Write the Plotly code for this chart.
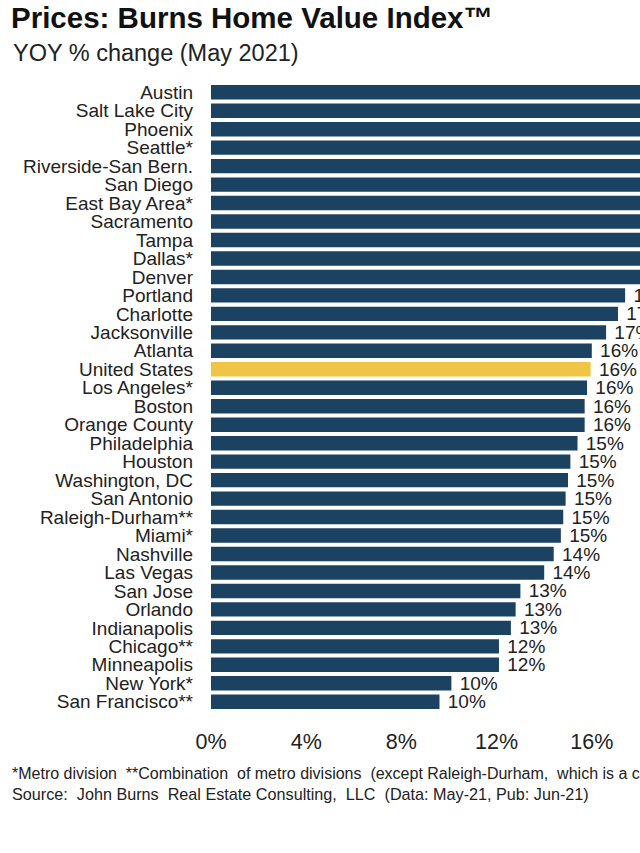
import plotly.graph_objects as go

# ---- data ----
metros = [
    "Austin", "Salt Lake City", "Phoenix", "Seattle*", "Riverside-San Bern.",
    "San Diego", "East Bay Area*", "Sacramento", "Tampa", "Dallas*", "Denver",
    "Portland", "Charlotte", "Jacksonville", "Atlanta", "United States",
    "Los Angeles*", "Boston", "Orange County", "Philadelphia", "Houston",
    "Washington, DC", "San Antonio", "Raleigh-Durham**", "Miami*", "Nashville",
    "Las Vegas", "San Jose", "Orlando", "Indianapolis", "Chicago**",
    "Minneapolis", "New York*", "San Francisco**",
]
yoy_change = [
    28.0, 23.0, 22.5, 21.5, 21.0,
    20.5, 20.0, 19.8, 19.5, 19.2, 18.6,
    17.4, 17.1, 16.6, 16.0, 15.95,
    15.8, 15.7, 15.7, 15.4, 15.1,
    15.0, 14.9, 14.8, 14.7, 14.4,
    14.0, 13.0, 12.8, 12.6, 12.1,
    12.1, 10.1, 9.6,
]
highlight = "United States"
tick_values = [0, 4, 8, 12, 16]
tick_labels = ["0%", "4%", "8%", "12%", "16%"]

title_text = "<b>Prices: Burns Home Value Index™</b>"
subtitle_text = "YOY % change (May 2021)"
footnote_1 = ("*Metro division  **Combination  of metro divisions  (except Raleigh-Durham,  "
              "which is a combination of MSAs)")
footnote_2 = "Source:  John Burns  Real Estate Consulting,  LLC  (Data: May-21, Pub: Jun-21)"

# ---- styling ----
NAVY = "#1c4262"
GOLD = "#f0c445"
FONT = "Liberation Sans, Arial, sans-serif"

colors = [GOLD if m == highlight else NAVY for m in metros]
labels = ["\u00a0%d%%" % round(v) for v in yoy_change]

W, H = 640, 853
L, R, T, B = 211, 0, 83, 142
pw, ph = W - L - R, H - T - B


def px_x(x):
    return (x - L) / pw


def px_y(y):
    return (H - B - y) / ph


fig = go.Figure(
    go.Bar(
        x=yoy_change,
        y=metros,
        orientation="h",
        marker=dict(color=colors, line=dict(width=0)),
        text=labels,
        textposition="outside",
        constraintext="none",
        textfont=dict(family=FONT, size=19, color="#222222"),
        cliponaxis=False,
        hoverinfo="skip",
    )
)

fig.update_layout(
    width=W,
    height=H,
    margin=dict(l=L, r=R, t=T, b=B, pad=0),
    paper_bgcolor="white",
    plot_bgcolor="white",
    bargap=0.22,
    showlegend=False,
    font=dict(family=FONT, color="#222222"),
    title=dict(
        text=title_text,
        x=11 / W,
        xanchor="left",
        xref="container",
        y=1 - 18 / H,
        yanchor="middle",
        yref="container",
        font=dict(family=FONT, size=29.5, color="#111111"),
    ),
    annotations=[
        dict(text=subtitle_text, xref="paper", yref="paper",
             x=px_x(11), y=px_y(53), xanchor="left", yanchor="middle",
             showarrow=False, font=dict(family=FONT, size=23.5, color="#222222")),
        dict(text=footnote_1, xref="paper", yref="paper",
             x=px_x(10), y=px_y(773), xanchor="left", yanchor="middle",
             showarrow=False, font=dict(family=FONT, size=16, color="#222222")),
        dict(text=footnote_2, xref="paper", yref="paper",
             x=px_x(10), y=px_y(794), xanchor="left", yanchor="middle",
             showarrow=False, font=dict(family=FONT, size=16.2, color="#222222")),
    ],
)

fig.update_xaxes(
    range=[0, pw / 23.8],
    tickvals=tick_values,
    ticktext=tick_labels,
    showgrid=False,
    zeroline=False,
    showline=False,
    ticks="",
    ticklabelstandoff=15,
    tickfont=dict(family=FONT, size=21.5, color="#222222"),
    fixedrange=True,
)
fig.update_yaxes(
    autorange="reversed",
    tickmode="array",
    tickvals=metros,
    ticktext=metros,
    showgrid=False,
    showline=False,
    ticks="",
    ticklabelstandoff=17,
    tickfont=dict(family=FONT, size=19, color="#222222"),
    fixedrange=True,
)

fig.write_html(
    "out.html",
    config={"displayModeBar": False},
    post_script="document.body.style.margin='0';document.body.style.overflow='hidden';",
)
